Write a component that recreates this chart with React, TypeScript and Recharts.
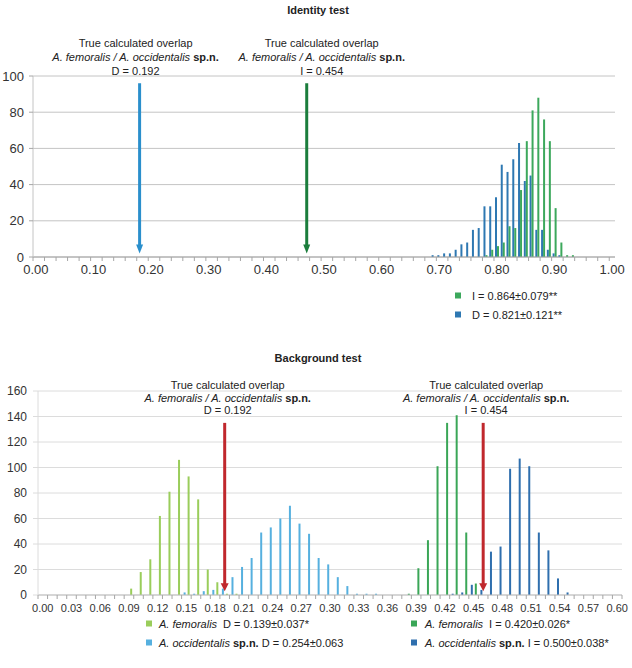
import React from "react";
import { Bar, BarChart, CartesianGrid, ReferenceLine, XAxis, YAxis } from "recharts";

const FONT = '"Liberation Sans", Arial, Helvetica, sans-serif';

// Identity test: histogram bins of 0.01 from 0.00 to 1.00
const identityBins = Array.from({ length: 101 }, (_, i) => (i / 100).toFixed(2));
const identityLabels = ["0.00", "0.10", "0.20", "0.30", "0.40", "0.50", "0.60", "0.70", "0.80", "0.90", "1.00"];
const identityYTicks = [0, 20, 40, 60, 80, 100];
const identityDStart = "0.69";
const identityD = [1, 1, 2, 2, 4, 7, 8, 15, 16, 28, 28, 33, 51, 47, 54, 63, 42, 45, 15, 15, 4, 2, 1];
const identityIStart = "0.78";
const identityI = [1, 4, 6, 8, 17, 16, 37, 64, 81, 88, 76, 64, 27, 8, 1, 1];

// Background test: bins of 0.01 from 0.00 to 0.60
const backgroundBins = Array.from({ length: 61 }, (_, i) => (i / 100).toFixed(2));
const backgroundLabels = ["0.00", "0.03", "0.06", "0.09", "0.12", "0.15", "0.18", "0.21", "0.24", "0.27", "0.30", "0.33", "0.36", "0.39", "0.42", "0.45", "0.48", "0.51", "0.54", "0.57", "0.60"];
const backgroundYTicks = [0, 20, 40, 60, 80, 100, 120, 140, 160];
const femDStart = "0.09";
const femD = [5, 18, 28, 62, 81, 106, 93, 75, 20, 10, 1, 1];
const occDStart = "0.15";
const occD = [2, 1, 3, 4, 5, 14, 22, 29, 49, 53, 60, 70, 56, 48, 29, 24, 14, 7, 1, 1, 1];
const femIStart = "0.38";
const femI = [1, 21, 43, 101, 135, 141, 49, 9];
const occIStart = "0.43";
const occI = [1, 2, 8, 4, 34, 38, 99, 107, 101, 49, 35, 13, 2];

const spread = (bins: string[], start: string, values: number[]) => {
  const s = bins.indexOf(start);
  return bins.map((_, i) => values[i - s] ?? 0);
};

const identityData = (() => {
  const d = spread(identityBins, identityDStart, identityD);
  const v = spread(identityBins, identityIStart, identityI);
  return identityBins.map((bin, i) => ({ bin, d: d[i], i: v[i] }));
})();

const backgroundData = (() => {
  const a = spread(backgroundBins, femDStart, femD);
  const b = spread(backgroundBins, occDStart, occD);
  const c = spread(backgroundBins, femIStart, femI);
  const e = spread(backgroundBins, occIStart, occI);
  return backgroundBins.map((bin, i) => ({ bin, femD: a[i], occD: b[i], femI: c[i], occI: e[i] }));
})();

const ID_W = 582;
const BG_W = 584;

function BinTick(props: any) {
  const { x, y, payload, bins, labels, every, width, fontSize, labelDy, edge } = props;
  const idx = bins.indexOf(payload.value);
  const bw = width / bins.length;
  const left = x - bw / 2;
  return (
    <g>
      {idx % every === 0 && <line x1={left} x2={left} y1={y} y2={y + 4} stroke="#a6a6a6" />}
      {edge && idx === bins.length - 1 && (
        <line x1={x + bw / 2} x2={x + bw / 2} y1={y} y2={y + 4} stroke="#a6a6a6" />
      )}
      {labels.includes(payload.value) && (
        <text x={x} y={y + labelDy} textAnchor="middle" fontSize={fontSize} fill="#333" fontFamily={FONT}>
          {payload.value}
        </text>
      )}
    </g>
  );
}

// arrow pointing down to the observed overlap, with its caption above
function Arrow(props: any) {
  const { x1, y1, y2, color, yMax, top, tip, value, textY, head, dx } = props;
  const bottom = Math.max(y1, y2);
  const upper = Math.min(y1, y2);
  const yOf = (v: number) => bottom - ((bottom - upper) * v) / yMax;
  const yTop = yOf(top);
  const yTip = yOf(tip);
  const x = x1;
  const tx = x + dx;
  return (
    <g>
      <line x1={x} x2={x} y1={yTop} y2={yTip - head.h + 1} stroke={color} strokeWidth={3} />
      <polygon points={`${x - head.w / 2},${yTip - head.h} ${x + head.w / 2},${yTip - head.h} ${x},${yTip}`} fill={color} />
      <g fontFamily={FONT} fontSize={11} fill="#222" textAnchor="middle">
        <text x={tx} y={textY[0]}>True calculated overlap</text>
        <text x={tx} y={textY[1]}>
          <tspan fontStyle="italic">A. femoralis / A. occidentalis</tspan>
          <tspan fontWeight="bold"> sp.n.</tspan>
        </text>
        <text x={tx} y={textY[2]}>{value}</text>
      </g>
    </g>
  );
}

export default function App() {
  return (
    <div style={{ position: "absolute", left: 0, top: 0, width: 632, height: 668, background: "#fff", fontFamily: FONT }}>
      <div style={{ position: "absolute", left: 0, top: 0 }}>
        <BarChart
          width={632}
          height={290}
          data={identityData}
          margin={{ top: 76, right: 17, bottom: 3, left: 0 }}
          barGap={0}
        >
          <CartesianGrid vertical={false} stroke="#c4c4c4" />
          <XAxis
            dataKey="bin"
            interval={0}
            height={30}
            tickSize={0}
            tickMargin={0}
            tickLine={false}
            axisLine={{ stroke: "#a6a6a6" }}
            tick={<BinTick bins={identityBins} labels={identityLabels} every={2} width={ID_W} fontSize={13} labelDy={17} edge={false} />}
          />
          <YAxis
            width={33}
            domain={[0, 100]}
            ticks={identityYTicks}
            interval={0}
            tickSize={4}
            tickMargin={5}
            tickLine={{ stroke: "#a6a6a6" }}
            axisLine={{ stroke: "#c4c4c4" }}
            tick={{ fontSize: 13, fill: "#333", fontFamily: FONT }}
          />
          <Bar dataKey="d" fill="#2e78b2" barSize={2} isAnimationActive={false} />
          <Bar dataKey="i" fill="#3ca85c" barSize={2} isAnimationActive={false} />
          <ReferenceLine
            x="0.18"
            shape={(p: any) => (
              <Arrow {...p} color="#2a8fcc" yMax={100} top={96} tip={2} value="D = 0.192" textY={[47, 61, 75]} head={{ w: 7, h: 9 }} dx={-4} />
            )}
          />
          <ReferenceLine
            x="0.47"
            shape={(p: any) => (
              <Arrow {...p} color="#1b7d3c" yMax={100} top={96} tip={2} value="I = 0.454" textY={[47, 61, 75]} head={{ w: 7, h: 9 }} dx={15} />
            )}
          />
        </BarChart>
      </div>

      <div style={{ position: "absolute", left: 0, top: 340 }}>
        <BarChart
          width={632}
          height={280}
          data={backgroundData}
          margin={{ top: 51, right: 10, bottom: 5, left: 0 }}
          barGap={2}
        >
          <CartesianGrid vertical={false} stroke="#dcdcdc" />
          <XAxis
            dataKey="bin"
            interval={0}
            height={20}
            tickSize={0}
            tickMargin={0}
            tickLine={false}
            axisLine={{ stroke: "#bfbfbf" }}
            tick={<BinTick bins={backgroundBins} labels={backgroundLabels} every={1} width={BG_W} fontSize={11} labelDy={17} edge={true} />}
          />
          <YAxis
            width={38}
            domain={[0, 160]}
            ticks={backgroundYTicks}
            interval={0}
            tickSize={5}
            tickMargin={6}
            tickLine={{ stroke: "#dcdcdc" }}
            axisLine={{ stroke: "#dcdcdc" }}
            tick={{ fontSize: 12, fill: "#333", fontFamily: FONT }}
          />
          <Bar dataKey="occD" stackId="occ" fill="#56b0df" barSize={2} isAnimationActive={false} />
          <Bar dataKey="occI" stackId="occ" fill="#2f6fae" barSize={2} isAnimationActive={false} />
          <Bar dataKey="femD" stackId="fem" fill="#9acd5b" barSize={2} isAnimationActive={false} />
          <Bar dataKey="femI" stackId="fem" fill="#3aa657" barSize={2} isAnimationActive={false} />
          <ReferenceLine
            x="0.19"
            shape={(p: any) => (
              <Arrow {...p} color="#c0282d" yMax={160} top={135} tip={3} value="D = 0.192" textY={[49, 62, 74]} head={{ w: 8, h: 8 }} dx={3} />
            )}
          />
          <ReferenceLine
            x="0.46"
            shape={(p: any) => (
              <Arrow {...p} color="#c0282d" yMax={160} top={135} tip={3} value="I = 0.454" textY={[49, 62, 74]} head={{ w: 8, h: 8 }} dx={3} />
            )}
          />
        </BarChart>
      </div>

      <svg width={632} height={668} style={{ position: "absolute", left: 0, top: 0, pointerEvents: "none" }}>
        <g fontFamily={FONT} fontSize={11} fill="#222">
          <text x={318} y={14} textAnchor="middle" fontWeight="bold">Identity test</text>
          <text x={318} y={362} textAnchor="middle" fontWeight="bold">Background test</text>

          <rect x={455} y={292.5} width={6} height={6} fill="#3ca85c" />
          <text x={472} y={300}>I = 0.864±0.079**</text>
          <rect x={455} y={311.5} width={6} height={6} fill="#2e78b2" />
          <text x={472} y={319}>D = 0.821±0.121**</text>

          <rect x={146} y={620.5} width={6} height={6} fill="#9acd5b" />
          <text x={159} y={628}>
            <tspan fontStyle="italic">A. femoralis</tspan>
            <tspan dx={6}>D = 0.139±0.037*</tspan>
          </text>
          <rect x={146} y={639.5} width={6} height={6} fill="#56b0df" />
          <text x={159} y={647}>
            <tspan fontStyle="italic">A. occidentalis</tspan>
            <tspan fontWeight="bold"> sp.n.</tspan>
            <tspan> D = 0.254±0.063</tspan>
          </text>
          <rect x={411} y={620.5} width={6} height={6} fill="#3aa657" />
          <text x={425} y={628}>
            <tspan fontStyle="italic">A. femoralis</tspan>
            <tspan dx={6}>I = 0.420±0.026*</tspan>
          </text>
          <rect x={411} y={639.5} width={6} height={6} fill="#2f6fae" />
          <text x={425} y={647}>
            <tspan fontStyle="italic">A. occidentalis</tspan>
            <tspan fontWeight="bold"> sp.n.</tspan>
            <tspan> I = 0.500±0.038*</tspan>
          </text>
        </g>
      </svg>
    </div>
  );
}
